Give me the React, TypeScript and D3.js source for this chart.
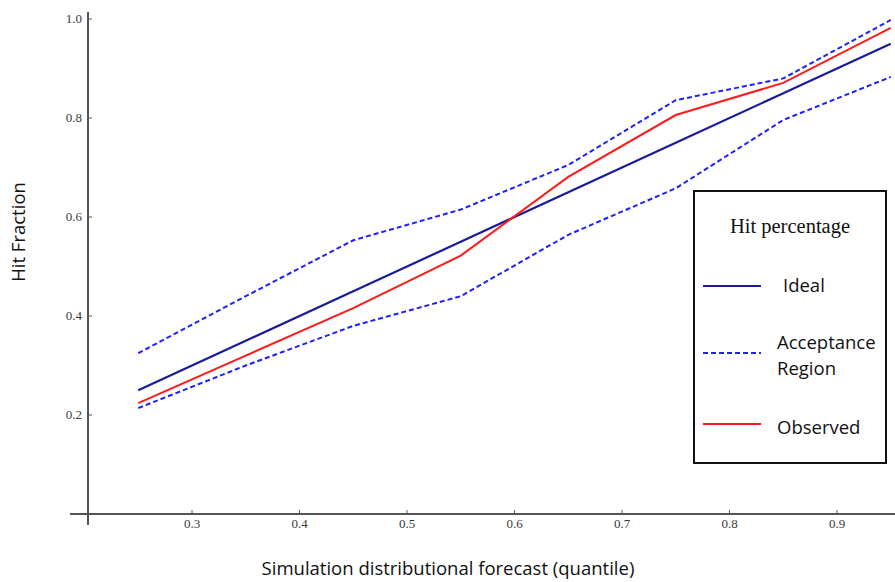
import React from "react";
import * as d3 from "d3";

const quantiles = [0.25, 0.35, 0.45, 0.55, 0.65, 0.75, 0.85, 0.95];
const ideal = [0.25, 0.35, 0.45, 0.55, 0.65, 0.75, 0.85, 0.95];
const upper = [0.325, 0.44, 0.553, 0.615, 0.705, 0.836, 0.88, 0.998];
const lower = [0.214, 0.3, 0.38, 0.44, 0.564, 0.658, 0.796, 0.883];
const observed = [0.224, 0.32, 0.416, 0.522, 0.681, 0.806, 0.871, 0.982];
const xTicks = [0.3, 0.4, 0.5, 0.6, 0.7, 0.8, 0.9];
const yTicks = [0.2, 0.4, 0.6, 0.8, 1.0];

const W = 895, H = 582;

export default function App() {
  const x = d3.scaleLinear().domain([0.3, 0.9]).range([192, 837]);
  const y = d3.scaleLinear().domain([0, 1]).range([514, 19]);
  const line = d3.line<[number, number]>().x(d => x(d[0])).y(d => y(d[1]));
  const mk = (vals: number[]) => line(quantiles.map((q, i) => [q, vals[i]] as [number, number])) || "";
  const tickFont = "'Liberation Serif', 'DejaVu Serif', serif";
  const sans = "'Open Sans', 'Noto Sans', sans-serif";
  const x0 = x.invert(88);
  return (
    <svg width={W} height={H} style={{ position: "absolute", left: 0, top: 0, background: "#fff" }}>
      {/* axes */}
      <line x1={70} x2={W} y1={y(0)} y2={y(0)} stroke="#555" strokeWidth={2} />
      <line x1={x(x0)} x2={x(x0)} y1={12} y2={525} stroke="#555" strokeWidth={2} />
      {xTicks.map(t => (
        <g key={"x" + t}>
          <line x1={x(t)} x2={x(t)} y1={y(0)} y2={y(0) - 4} stroke="#555" />
          <text x={x(t)} y={528} textAnchor="middle" fontFamily={tickFont} fontSize={13} fill="#3a3a3a">{t.toFixed(1)}</text>
        </g>
      ))}
      {yTicks.map(t => (
        <g key={"y" + t}>
          <line x1={88} x2={92} y1={y(t)} y2={y(t)} stroke="#555" />
          <text x={82} y={y(t) + 4} textAnchor="end" fontFamily={tickFont} fontSize={13} fill="#3a3a3a">{t.toFixed(1)}</text>
        </g>
      ))}
      <text transform={`translate(25,232) rotate(-90)`} textAnchor="middle" fontFamily={sans} fontSize={18.5} fill="#111">Hit Fraction</text>
      <text x={448} y={575} textAnchor="middle" fontFamily={sans} fontSize={18.5} fill="#111">Simulation distributional forecast (quantile)</text>

      {/* series */}
      <path d={mk(upper)} fill="none" stroke="#1f1fff" strokeWidth={2} strokeDasharray="5,3" />
      <path d={mk(lower)} fill="none" stroke="#1f1fff" strokeWidth={2} strokeDasharray="5,3" />
      <path d={mk(ideal)} fill="none" stroke="#1a1a9c" strokeWidth={2.2} />
      <path d={mk(observed)} fill="none" stroke="#ff1a1a" strokeWidth={2} />

      {/* legend */}
      <rect x={694} y={191} width={192} height={272} fill="#fff" stroke="#111" strokeWidth={2} />
      <text x={790} y={233} textAnchor="middle" fontFamily={tickFont} fontSize={20.5} fill="#111">Hit percentage</text>
      <line x1={703} x2={761} y1={286} y2={286} stroke="#1a1a9c" strokeWidth={2.2} />
      <text x={783} y={292} fontFamily={sans} fontSize={18.5} fill="#111">Ideal</text>
      <line x1={703} x2={761} y1={353} y2={353} stroke="#1f1fff" strokeWidth={2} strokeDasharray="5,3" />
      <text x={777} y={349} fontFamily={sans} fontSize={18.5} fill="#111">Acceptance</text>
      <text x={777} y={375} fontFamily={sans} fontSize={18.5} fill="#111">Region</text>
      <line x1={703} x2={761} y1={424} y2={424} stroke="#ff1a1a" strokeWidth={2} />
      <text x={777} y={434} fontFamily={sans} fontSize={18.5} fill="#111">Observed</text>
    </svg>
  );
}
